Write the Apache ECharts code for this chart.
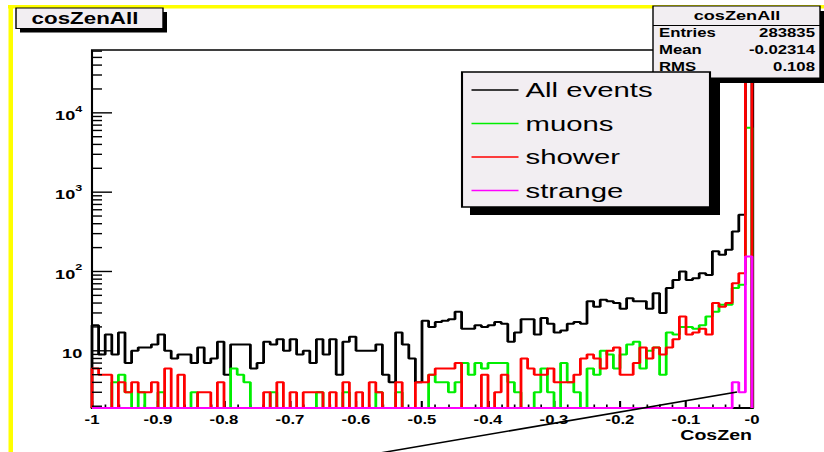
<!DOCTYPE html>
<html><head><meta charset="utf-8">
<script src="https://cdn.jsdelivr.net/npm/echarts@6/dist/echarts.min.js"></script>
<style>
html,body{margin:0;padding:0;background:#fff;overflow:hidden;}
#wrap{width:824px;height:452px;overflow:hidden;position:relative;background:#fff;}
#chart{width:590px;height:452px;transform:scaleX(1.3966102);transform-origin:0 0;}
</style></head>
<body><div id="wrap"><div id="chart"></div></div>
<script>
// ---- data (100 bins from -1 to 0, width 0.01) ----
const binLow = -1;
const binWidth = 0.01;
const xTickLabels = ['-1','-0.9','-0.8','-0.7','-0.6','-0.5','-0.4','-0.3','-0.2','-0.1','-0'];
const yMajorTicks = [10, 100, 1000, 10000];
const seriesNames = ['All events','muons','shower','strange'];
const allEvents = [21,9,16,9,17,7,10,11,11,12, 16,10,8,9,9,7,11,7,8,13,
  5,12,12,12,6,7,13,12,14,10, 14,9,10,7,14,9,14,5,13,15,
  10,10,10,12,5,4,17,12,8,4, 24,20,23,24,25,31,19,19,21,20,
  21,23,22,13,17,25,25,16,26,22, 17,18,22,23,22,42,36,44,42,40,
  34,46,42,42,34,53,30,62,78,100, 78,82,95,90,180,162,188,320,520,280000];
const muons = [0,0,0,4,5,3,0,3,0,0, 3,0,0,0,0,3,0,0,0,0,
  0,6,5,4,0,0,0,3,0,0, 0,0,0,0,3,0,0,0,3,0,
  0,0,0,3,0,0,3,0,0,0, 0,5,4,4,3,4,7,5,7,6,
  7,7,7,4,3,0,0,3,6,3, 0,7,4,3,0,6,5,10,9,6,
  9,12,13,6,10,11,5,17,16,20, 20,19,21,27,31,38,38,62,68,6500];
const shower = [6,5,5,0,4,3,4,3,3,4, 0,6,0,5,0,0,3,3,0,4,
  0,0,0,0,0,0,3,0,4,0, 3,0,3,3,3,0,3,0,4,0,
  3,0,4,3,0,0,4,0,0,4, 4,5,6,6,6,7,0,0,0,5,
  0,3,5,0,0,8,6,5,5,6, 4,4,4,5,8,9,8,6,10,11,
  5,5,7,11,8,11,9,11,14,27, 16,17,19,16,40,36,40,71,95,270000];
const strange = [0,0,0,0,0,0,0,0,0,0, 0,0,0,0,0,0,0,0,0,0,
  0,0,0,0,0,0,0,0,0,0, 0,0,0,0,0,0,0,0,0,0,
  0,0,0,0,0,0,0,0,0,0, 0,0,0,0,0,0,0,0,0,0,
  0,0,0,0,0,0,0,0,0,0, 0,0,0,0,0,0,0,0,0,0,
  0,0,0,0,0,0,0,0,0,0, 0,0,0,0,0,0,0,4,3,155];
const statsTitle = 'cosZenAll';
const statsRows = [['Entries','283835'],['Mean','-0.02314'],['RMS','0.108']];

// ---- layout ----
const SX = 824/590;
const u = px => px / SX;
const yMin = 1.9, yMax = 62000;
const FONT = '"Liberation Sans", Arial, sans-serif';

function histPoints(vals){
  const n = vals.length;
  const pts = [[binLow, yMin]];
  vals.forEach((v,i) => pts.push([+(binLow + i*binWidth).toFixed(4), v > 0 ? v : yMin]));
  const last = vals[n-1] > 0 ? vals[n-1] : yMin;
  const xEnd = +(binLow + n*binWidth).toFixed(4);
  pts.push([xEnd, last]);
  pts.push([xEnd, yMin]);
  return pts;
}
const minorVals = [];
for (let e = 0; e <= 4; e++) for (let k = 2; k <= 9; k++) { const v = k*Math.pow(10,e); if (v > yMin && v < yMax) minorVals.push(v); }

const colors = ['#000000','#00ee00','#ff0000','#ff00ff'];
const dataSets = [allEvents, muons, shower, strange];
const series = dataSets.map((d,i) => ({
  type:'line', name: seriesNames[i], data: histPoints(d), step:'end', symbol:'none',
  lineStyle:{color: colors[i], width: 2}, itemStyle:{color: colors[i]},
  clip: true, animation: false, z: 2 + i*0.1
}));
// log-axis ticks (ROOT style: long at decades, short at 2..9)
const tickData = yMajorTicks.map(v => [binLow, v, 20]).concat(minorVals.map(v => [binLow, v, 10]));
series.push({
  type:'custom', coordinateSystem:'cartesian2d', silent:true, animation:false, z: 3,
  data: tickData,
  renderItem: (params, api) => {
    const p = api.coord([api.value(0), api.value(1)]);
    const len = u(api.value(2));
    return {type:'line', shape:{x1:p[0], y1:p[1], x2:p[0]+len, y2:p[1]}, style:{stroke:'#000', lineWidth:1.4}};
  }
});

const statsX0 = u(653), statsX1 = u(820);
const graphics = [
  {type:'rect', z:1, shape:{x:u(8), y:5, width:600, height:3.5}, style:{fill:'#ffff00'}},
  {type:'rect', z:1, shape:{x:u(8.5), y:5, width:u(4.5), height:460}, style:{fill:'#ffff00'}},
  // title box
  {type:'rect', z:10, shape:{x:u(20), y:12, width:u(147), height:20.5}, style:{fill:'#000'}},
  {type:'rect', z:10, shape:{x:u(16), y:8, width:u(147), height:20.5}, style:{fill:'#f2eef2', stroke:'#000', lineWidth:1}},
  {type:'text', z:11, style:{x:u(85), y:18.5, text:'cosZenAll', textAlign:'center', textVerticalAlign:'middle', font:'bold 16px '+FONT, fill:'#000'}},
  // stats box
  {type:'rect', z:10, shape:{x:u(657), y:11, width:u(167), height:72}, style:{fill:'#000'}},
  {type:'rect', z:10, shape:{x:statsX0, y:6, width:statsX1-statsX0, height:72}, style:{fill:'#f2eef2', stroke:'#000', lineWidth:1}},
  {type:'line', z:10, shape:{x1:statsX0, y1:25.5, x2:statsX1, y2:25.5}, style:{stroke:'#000', lineWidth:1}},
  {type:'text', z:11, style:{x:u(737), y:15.5, text:statsTitle, textAlign:'center', textVerticalAlign:'middle', font:'bold 13px '+FONT, fill:'#000'}}
];
statsRows.forEach((r,i) => {
  const y = 33 + i*17;
  graphics.push({type:'text', z:11, style:{x:u(659), y:y, text:r[0], textAlign:'left', textVerticalAlign:'middle', font:'bold 12px '+FONT, fill:'#000'}});
  graphics.push({type:'text', z:11, style:{x:u(815), y:y, text:r[1], textAlign:'right', textVerticalAlign:'middle', font:'bold 12px '+FONT, fill:'#000'}});
});
graphics.push(
  {type:'rect', z:12, shape:{x:u(470), y:80, width:u(250), height:135}, style:{fill:'#000'}},
  {type:'rect', z:12, shape:{x:u(462), y:72, width:u(248), height:135}, style:{fill:'#f2eef2', stroke:'#000', lineWidth:1.5}},
  {type:'line', z:12, shape:{x1:u(380), y1:453, x2:u(737), y2:392}, style:{stroke:'#000', lineWidth:1.5}}
);

const chart = echarts.init(document.getElementById('chart'), null, {renderer:'svg', width:590, height:452});
chart.setOption({
  backgroundColor:'#ffffff',
  animation:false,
  grid:{left:u(92), right:590-u(752), top:50, bottom:44, show:true, borderColor:'#000', borderWidth:1.5, backgroundColor:'#fff', containLabel:false},
  legend:{
    data: seriesNames, orient:'vertical', left:u(471.5), top:78, padding:0, itemGap:9.5,
    icon:'rect', itemWidth:u(47), itemHeight:1.6, selectedMode:false, z:20,
    textStyle:{fontSize:21, fontFamily:FONT, color:'#000', lineHeight:24}
  },
  xAxis:{
    type:'value', min:-1, max:0, interval:0.1,
    axisLine:{show:true, onZero:false, lineStyle:{color:'#000', width:2}},
    axisTick:{show:true, inside:true, length:7, lineStyle:{color:'#000', width:1.5}},
    minorTick:{show:true, splitNumber:5, length:3.5, lineStyle:{color:'#000', width:1.2}},
    splitLine:{show:false}, minorSplitLine:{show:false},
    axisLabel:{
      formatter: v => xTickLabels[Math.round((v - binLow)*10)] || '',
      fontSize:12, fontWeight:'bold', fontFamily:FONT, color:'#000', margin:6, showMinLabel:true, showMaxLabel:true
    },
    name:'CosZen', nameLocation:'end', nameGap:0,
    nameTextStyle:{fontSize:14, fontWeight:'bold', fontFamily:FONT, color:'#000', align:'right', verticalAlign:'top', padding:[20,0,0,0]}
  },
  yAxis:{
    type:'log', logBase:10, min:yMin, max:yMax,
    axisLine:{show:true, lineStyle:{color:'#000', width:2}},
    axisTick:{show:false},
    minorTick:{show:false}, splitLine:{show:false},
    axisLabel:{
      margin:7, showMinLabel:false, showMaxLabel:false,
      formatter: v => { const L = Math.log10(v); const n = Math.round(L); if (Math.abs(L-n) > 1e-6 || n < 1) return ''; return n === 1 ? '{b|10}' : '{b|10}{s|' + n + '}'; },
      rich:{
        b:{fontSize:13, fontWeight:'bold', fontFamily:FONT, color:'#000', lineHeight:18, verticalAlign:'bottom'},
        s:{fontSize:9, fontWeight:'bold', fontFamily:FONT, color:'#000', lineHeight:18, verticalAlign:'top'}
      }
    }
  },
  graphic:{elements: graphics},
  series: series
});
</script>
</body></html>
